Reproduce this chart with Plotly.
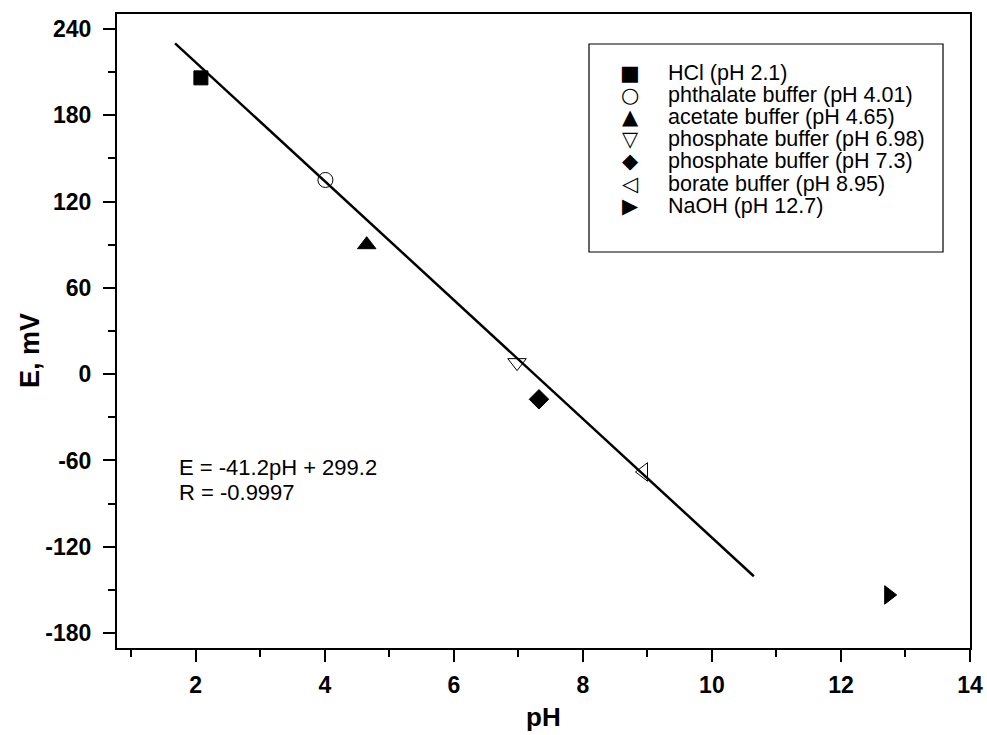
import plotly.graph_objects as go

# ---- data ----
labels = ["HCl (pH 2.1)", "phthalate buffer (pH 4.01)", "acetate buffer (pH 4.65)",
          "phosphate buffer (pH 6.98)", "phosphate buffer (pH 7.3)",
          "borate buffer (pH 8.95)", "NaOH (pH 12.7)"]
ph_values = [2.08, 4.01, 4.65, 6.98, 7.32, 8.94, 12.74]
e_values = [206, 135, 90, 8, -17.5, -68, -153.5]
symbols = ["square", "circle-open", "triangle-up", "triangle-down-open",
           "diamond", "triangle-left-open", "triangle-right"]
legend_glyphs = ["\u25A0", "\u25CB", "\u25B2", "\u25BD", "\u25C6", "\u25C1", "\u25B6"]
fit_x = [1.68, 10.65]
fit_y = [230.0, -140.5]
equation_lines = ["E = -41.2pH + 299.2", "R = -0.9997"]
x_ticks = [2, 4, 6, 8, 10, 12, 14]
y_ticks = [-180, -120, -60, 0, 60, 120, 180, 240]
x_range = [0.78, 14.0]
y_range = [-190.4, 250.4]

# ---- geometry (pixels) ----
L, R, T, B = 117, 970, 14, 648
W, H = R - L, B - T
def px(x):
    return (x - L) / W
def py(y):
    return (B - y) / H

FONT = "Liberation Sans, Arial, sans-serif"

fig = go.Figure()
fig.add_trace(go.Scatter(x=fit_x, y=fit_y, mode="lines",
                         line=dict(color="black", width=2.5), showlegend=False))
sizes = [14, 15, 16, 16, 15, 16, 16]
for lab, xv, yv, sym, sz in zip(labels, ph_values, e_values, symbols, sizes):
    fig.add_trace(go.Scatter(x=[xv], y=[yv], mode="markers", name=lab,
                             marker=dict(symbol=sym, size=sz, color="black",
                                         line=dict(color="black", width=1)),
                             showlegend=False))

annotations = []
row0, rowgap = 73, 22.1
for i, (g, lab) in enumerate(zip(legend_glyphs, labels)):
    yy = row0 + rowgap * i
    annotations.append(dict(x=px(630), y=py(yy), xref="paper", yref="paper",
                            text=g, showarrow=False, xanchor="center", yanchor="middle",
                            font=dict(family="DejaVu Sans", size=21, color="black")))
    annotations.append(dict(x=px(666), y=py(yy), xref="paper", yref="paper",
                            text=lab, showarrow=False, xanchor="left", yanchor="middle",
                            font=dict(family=FONT, size=21.5, color="black")))
for i, line in enumerate(equation_lines):
    annotations.append(dict(x=px(177), y=py(467 + 25 * i), xref="paper", yref="paper",
                            text=line, showarrow=False, xanchor="left", yanchor="middle",
                            font=dict(family=FONT, size=22, color="black")))
annotations.append(dict(x=0.5, y=py(717), xref="paper", yref="paper", text="pH",
                        showarrow=False, xanchor="center", yanchor="middle",
                        font=dict(family=FONT, size=26, color="black", weight="bold")))
annotations.append(dict(x=px(30), y=py(351), xref="paper", yref="paper", text="E, mV",
                        showarrow=False, xanchor="center", yanchor="middle", textangle=-90,
                        font=dict(family=FONT, size=27, color="black", weight="bold")))

shapes = [dict(type="rect", xref="paper", yref="paper",
               x0=px(589), x1=px(943), y0=py(44), y1=py(252),
               line=dict(color="black", width=1.2), fillcolor="rgba(0,0,0,0)")]

axis_common = dict(showgrid=False, zeroline=False, showline=True, linecolor="black",
                   linewidth=2, mirror=True, ticks="outside", ticklen=12, tickwidth=2,
                   tickcolor="black", automargin=False,
                   tickfont=dict(family=FONT, size=23, color="black", weight="bold"))

fig.update_layout(
    template="none",
    width=987, height=735,
    margin=dict(l=L, r=987 - R, t=T, b=735 - B, autoexpand=False),
    paper_bgcolor="white", plot_bgcolor="white",
    xaxis=dict(range=x_range, tickmode="array", tickvals=x_ticks,
               ticktext=[str(v) for v in x_ticks], ticklabelstandoff=3,
               minor=dict(dtick=1, tick0=0, ticks="outside", ticklen=7, tickwidth=2,
                          tickcolor="black"),
               **axis_common),
    yaxis=dict(range=y_range, tickmode="array", tickvals=y_ticks,
               ticktext=[str(v) for v in y_ticks], ticklabelstandoff=7,
               minor=dict(dtick=30, tick0=0, ticks="outside", ticklen=7, tickwidth=2,
                          tickcolor="black"),
               **axis_common),
    annotations=annotations,
    shapes=shapes,
    showlegend=False,
)

fig.write_html("out.html", config={"displayModeBar": False},
               post_script="document.body.style.margin='0';document.body.style.overflow='hidden';")
